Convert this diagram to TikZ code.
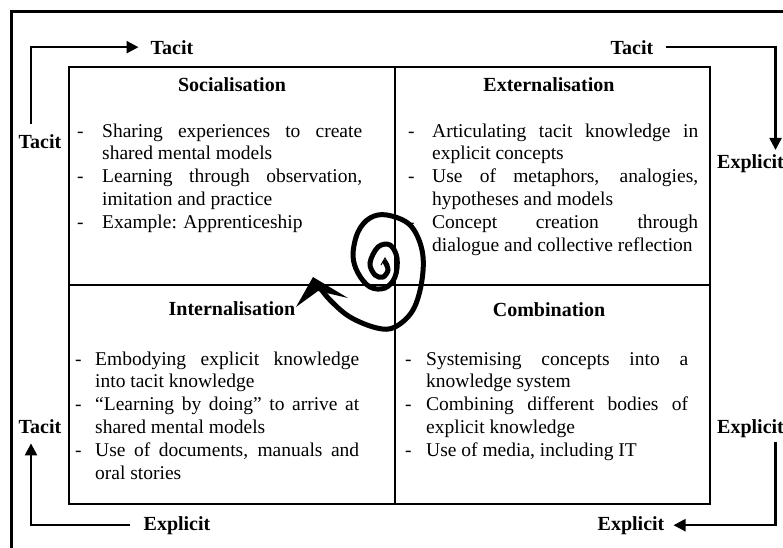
\documentclass[tikz,border=0pt]{standalone}
\usepackage{fontspec}
\setmainfont{Liberation Serif}
\usetikzlibrary{arrows.meta}
\tikzset{>=stealth}
\hyphenpenalty=10000
\exhyphenpenalty=10000
\tolerance=9999
\hbadness=10000
\tikzset{
	cellhead/.style={font=\fontsize{20}{22.8}\selectfont\bfseries, inner sep=0pt, anchor=base},
	cellbody/.style={font=\fontsize{19.5}{22.8}\selectfont, inner sep=0pt, anchor=base west, align=justify},
	sidelabel/.style={font=\fontsize{20}{22.8}\selectfont\bfseries, inner sep=0pt, anchor=base},
	flow/.style={line width=2.4pt, -{Triangle[length=12pt, width=12pt]}}
}
\newcommand{\kitem}[1][26pt]{\noindent\hangindent=#1\hangafter=1\makebox[#1][l]{\hspace{3pt}-}\ignorespaces}

\begin{document}
\begin{tikzpicture}[x=1pt, y=-1pt]
	\useasboundingbox (0,0) rectangle (783,547);
	\clip (0,0) rectangle (783,547);
	\draw [line width = 2.6pt] (11.5,600) -- (11.5,11.5) -- (850,11.5);
	\draw [line width = 2.8pt] (69,67) rectangle (710,504);
	\draw [line width = 2.2pt] (395,67) -- (395,504);
	\draw [line width = 2.2pt] (69,285) -- (710,285);
	% the four modes
	\node [cellhead] (soc) at (232,91) {Socialisation};
	\node [cellhead] (ext) at (549,91) {Externalisation};
	\node [cellhead] (int) at (232,315) {Internalisation};
	\node [cellhead] (com) at (549,316) {Combination};
	\node [cellbody, text width=288pt] (socbody) at (74,137) {\kitem[28pt] Sharing experiences to create\linebreak shared mental models\par \kitem[28pt] Learning through observation,\linebreak imitation and practice\par \kitem[28pt] Example: Apprenticeship\par};
	\node [cellbody, text width=293pt] (extbody) at (405,137) {\kitem[27pt] Articulating tacit knowledge in\linebreak explicit concepts\par \kitem[27pt] Use of metaphors, analogies,\linebreak hypotheses and models\par \kitem[27pt] Concept creation through\linebreak dialogue and collective reflection\par};
	\node [cellbody, text width=287pt] (intbody) at (72,365) {\kitem[23pt] Embodying explicit knowledge\linebreak into tacit knowledge\par \kitem[23pt] “Learning by doing” to arrive at\linebreak shared mental models\par \kitem[23pt] Use of documents, manuals and\linebreak oral stories\par};
	\node [cellbody, text width=286pt] (combody) at (402,365) {\kitem[24pt] Systemising concepts into a\linebreak knowledge system\par \kitem[24pt] Combining different bodies of\linebreak explicit knowledge\par \kitem[24pt] Use of media, including IT\par};
	% side labels and arrows
	\node [sidelabel] (tacitT) at (172,54) {Tacit};
	\node [sidelabel] (tacitR) at (632,54) {Tacit};
	\node [sidelabel] (tacitL) at (40,148) {Tacit};
	\node [sidelabel] (tacitL2) at (40,433) {Tacit};
	\node [sidelabel, anchor=base west] (explR) at (717,168) {Explicit};
	\node [sidelabel, anchor=base west] (explR2) at (717,433) {Explicit};
	\node [sidelabel] (explB1) at (177,530) {Explicit};
	\node [sidelabel] (explB2) at (631,530) {Explicit};
	\draw [flow] ([xshift=-9pt, yshift=10pt]tacitL.north) |- ([xshift=-12pt]tacitT.west);
	\draw [flow] ([xshift=12pt]tacitR.east) -| ([xshift=25pt, yshift=4pt]explR.north);
	\draw [flow] ([xshift=25pt, yshift=-5pt]explR2.south) |- ([xshift=9pt]explB2.east);
	\draw [flow] ([xshift=-13pt]explB1.west) -| ([xshift=-9pt, yshift=-10pt]tacitL2.south);
	% spiral
	\draw [line width=5pt, line cap=round] plot [smooth, tension=0.6] coordinates {(385,262) (388,270) (383,277) (375,275) (370,263) (378,247) (390,245) (397,258) (395,277) (385,288) (370,287) (358,273) (353,255) (358,232) (370,218) (387,215) (410,225) (422,250) (422,280) (413,310) (395,327) (377,328) (350,317) (330,300) (318,285)};
	\fill (313,277) -- (296,307) -- (318,291) -- (348,298) -- cycle;
	\draw [line width=1pt] (381,265) -- (385,258) -- (389,265);
\end{tikzpicture}
\end{document}
